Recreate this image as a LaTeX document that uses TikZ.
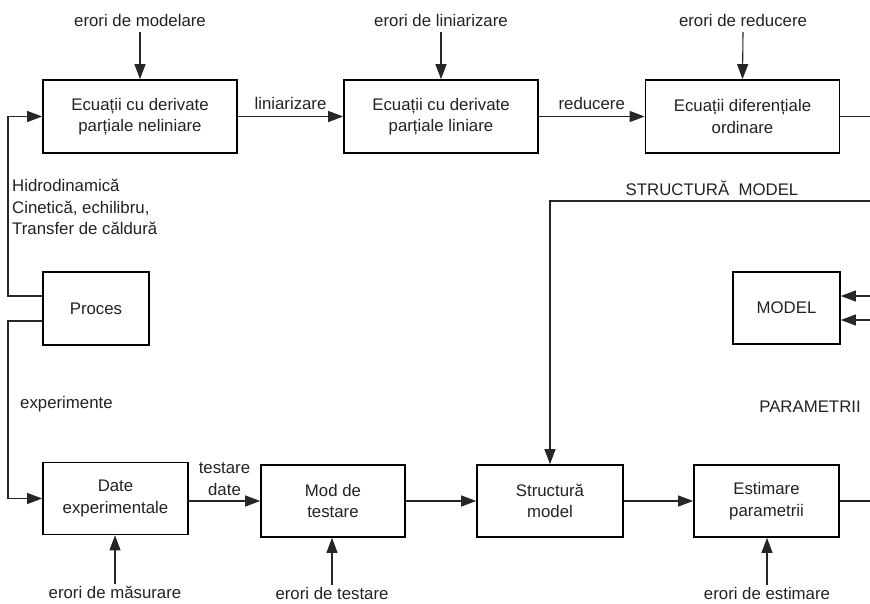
\documentclass[tikz,border=0pt]{standalone}
\usepackage{fontspec}
\setmainfont{Liberation Sans}
\usetikzlibrary{arrows.meta}
\definecolor{ink}{HTML}{222222}
\begin{document}
\begin{tikzpicture}[x=1pt,y=-1pt,
  every node/.style={text=ink, font=\fontsize{16.8}{21.5}\selectfont, inner sep=0pt},
  block/.style={draw=black, line width=1.7pt, align=center},
  wide/.style={block, minimum width=194pt, minimum height=73pt},
  mid/.style={block, minimum width=145pt, minimum height=72pt},
  small/.style={block, minimum width=106pt, minimum height=73pt},
  conn/.style={draw=black!85, line width=1.1pt},
  arr/.style={conn, -{Triangle[length=15pt,width=11pt]}},
  lbl/.style={align=left, anchor=west}]
\useasboundingbox (0,0) rectangle (870,603);

% upper chain of equation models
\node[wide] (pdeN) at (140,116.5) {Ecuații cu derivate\\parțiale neliniare};
\node[wide] (pdeL) at (441,116.5) {Ecuații cu derivate\\parțiale liniare};
\node[wide] (ode)  at (742.5,116.5) {Ecuații diferențiale\\ordinare};

% process and model
\node[small] (proc)  at (96,308.5) {Proces};
\node[small, minimum width=107pt, minimum height=72pt] (model) at (786.5,308) {MODEL};

% lower chain of identification steps
\node[mid] (date)  at (115.5,498.5) {Date\\experimentale};
\node[mid, minimum width=144pt] (test) at (333,501) {Mod de\\testare};
\node[mid, minimum width=146pt] (struct) at (550,501) {Structură\\model};
\node[mid] (estim) at (766.5,501) {Estimare\\parametrii};

% error sources
\node (eMod) at (140,20) {erori de modelare};
\node (eLin) at (441,20) {erori de liniarizare};
\node (eRed) at (743,20) {erori de reducere};
\node (eMas) at (115,592) {erori de măsurare};
\node (eTes) at (332,593) {erori de testare};
\node (eEst) at (767,593) {erori de estimare};

\draw[arr] (eMod.south |- 0,32) -- (pdeN.north);
\draw[arr] (eLin.south |- 0,32) -- (pdeL.north);
\draw[arr] (eRed.south |- 0,32) -- (ode.north);
\draw[arr] (eMas.north |- 0,584) -- (date.south -| eMas.north);
\draw[arr] (eTes.north |- 0,585) -- (test.south -| eTes.north);
\draw[arr] (eEst.north |- 0,585) -- (estim.south -| eEst.north);

% upper chain connectors
\draw[arr] (pdeN.east) -- node[above=6pt] {liniarizare} (pdeL.west);
\draw[arr] (pdeL.east) -- node[above=6pt] {reducere} (ode.west);
\coordinate (odeOut) at (870,116.5);
\draw[conn] (ode.east) -- (odeOut);

% process feeds the equations and the experiments
\coordinate (pA) at (8,296);
\coordinate (pB) at (8,321);
\draw[arr] (proc.west |- pA) -- (pA) -- (pdeN.west -| pA) -- (pdeN.west);
\draw[arr] (proc.west |- pB) -- (pB) -- (pA |- date.west) -- (date.west);
\node[lbl] (phys) at (12,207) {Hidrodinamică\\Cinetică, echilibru,\\Transfer de căldură};
\node[lbl] (exp) at (20,404) {experimente};

% lower chain connectors
\draw[arr] (date.east |- test.west) -- node[above=5pt, align=center] {testare\\date} (test.west);
\draw[arr] (test.east) -- (struct.west);
\draw[arr] (struct.east) -- (estim.west);
\coordinate (estOut) at (870,501);
\draw[conn] (estim.east) -- (estOut);

% model structure fed back from the right
\coordinate (sIn) at (870,201);
\coordinate (sCorner) at (550,201);
\draw[arr] (sIn) -- (sCorner) -- (struct.north);
\node (sLbl) at (712,188) {STRUCTURĂ~~MODEL};

% inputs to the model
\coordinate (mIn1) at (870,296);
\coordinate (mIn2) at (870,320);
\draw[arr] (mIn1) -- (model.east |- mIn1);
\draw[arr] (mIn2) -- (model.east |- mIn2);
\node (param) at (810,407) {PARAMETRII};
\end{tikzpicture}
\end{document}
